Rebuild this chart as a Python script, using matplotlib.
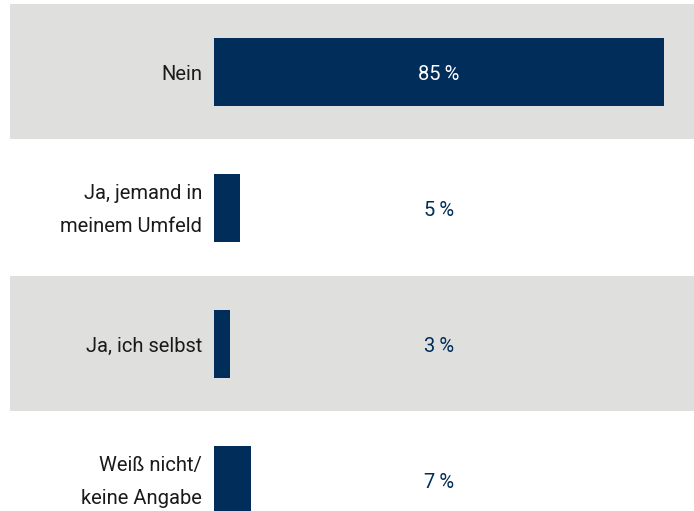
import numpy as np
import matplotlib
matplotlib.use("Agg")
import matplotlib.pyplot as plt

categories = ["Nein", "Ja, jemand in\nmeinem Umfeld", "Ja, ich selbst", "Weiß nicht/\nkeine Angabe"]
values = [85, 5, 3, 7]

navy = "#002d59"
band = "#dfdfde"

plt.rcParams['font.family'] = ['Roboto', 'DejaVu Sans']

W, H = 694, 511
fig = plt.figure(figsize=(W / 100, H / 100), dpi=100)
ax = fig.add_axes([0, 0, 1, 1])

# pixel layout: bars start at x=214, 85% ends at x=664; rows 136 px apart
scale = (664 - 214) / max(values)
x0 = -214 / scale
x1 = (W - 214) / scale
ax.set_xlim(x0, x1)
ax.set_ylim((H - 71.5) / 136, -71.5 / 136)

y = np.arange(len(categories))
for i in y:
    if i % 2 == 0:
        ax.axhspan(i - 0.497, i + 0.497, xmin=10 / W, xmax=1, color=band, lw=0, zorder=0)

ax.barh(y, values, height=0.5, color=navy, zorder=2)

label_x = -12 / scale
mid = max(values) / 2
dy = 2.5 / 136
for i, (cat, v) in enumerate(zip(categories, values)):
    ax.text(label_x, i + dy, cat, ha="right", va="center", fontsize=14.5,
            color="#1a1a1a", linespacing=1.9)
    col = "white" if v >= mid else navy
    ax.text(mid, i + dy, f"{v}\u2009%", ha="center", va="center", fontsize=14.5, color=col, zorder=3)

ax.axis("off")
fig.savefig("out.png", dpi=100)
